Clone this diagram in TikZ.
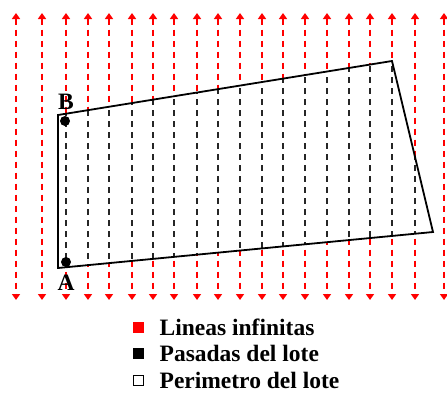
\documentclass[tikz,border=0pt]{standalone}
\usepackage{fontspec}
\setmainfont{Liberation Serif}
\usetikzlibrary{arrows.meta, positioning}

\begin{document}
\begin{tikzpicture}[x=1pt, y=-1pt, font=\bfseries\fontsize{23.5}{27}\selectfont,
    infinite/.style={red, line width=1.8pt, dash pattern=on 6pt off 5pt,
      {Triangle[length=6pt,width=8pt]}-{Triangle[length=6pt,width=8pt]}},
    pass/.style={black!85, line width=1.8pt, dash pattern=on 6pt off 5pt},
    border/.style={black, line width=1.8pt, line join=miter},
    legbox/.style={draw=black, line width=0.9pt, minimum size=10pt, inner sep=0pt},
    legtext/.style={inner sep=0pt}]
    \useasboundingbox (0,0) rectangle (447,392);

    % Corners of the lot
    \coordinate (A) at (58,268);
    \coordinate (B) at (58,115);
    \coordinate (C) at (392,61);
    \coordinate (D) at (433,232);

    % Infinite lines
    \foreach \x in {16,42,66,88,109,132,153,174,197,218,240,262,283,305,327,349,370,392,415,444}
        \draw[infinite] (\x,13) -- (\x,300);

    % Passes inside the lot
    \fill[white] (A) -- (B) -- (C) -- (D) -- cycle;
    \begin{scope}
        \clip (A) -- (B) -- (C) -- (D) -- cycle;
        \foreach \x in {66,88,109,132,153,174,197,218,240,262,283,305,327,349,370,392,415}
            \draw[pass] (\x,0) -- (\x,392);
    \end{scope}

    % Perimeter of the lot
    \draw[border] (A) -- (B) -- (C) -- (D) -- cycle;

    % Start and end points
    \fill (65,121) circle (5pt);
    \fill (66,262) circle (5pt);
    \node (labB) at (66,102) {B};
    \node (labA) at (66,283) {A};

    % Legend
    \node[legbox, fill=red, draw=red] (kred) at (138,327) {};
    \node[legbox, fill=black] (kblack) at (138,353) {};
    \node[legbox, fill=white] (kwhite) at (138,380) {};
    \node[legtext, right=16pt of kred] {Lineas infinitas};
    \node[legtext, right=16pt of kblack] {Pasadas del lote};
    \node[legtext, right=16pt of kwhite] {Perimetro del lote};
\end{tikzpicture}
\end{document}
